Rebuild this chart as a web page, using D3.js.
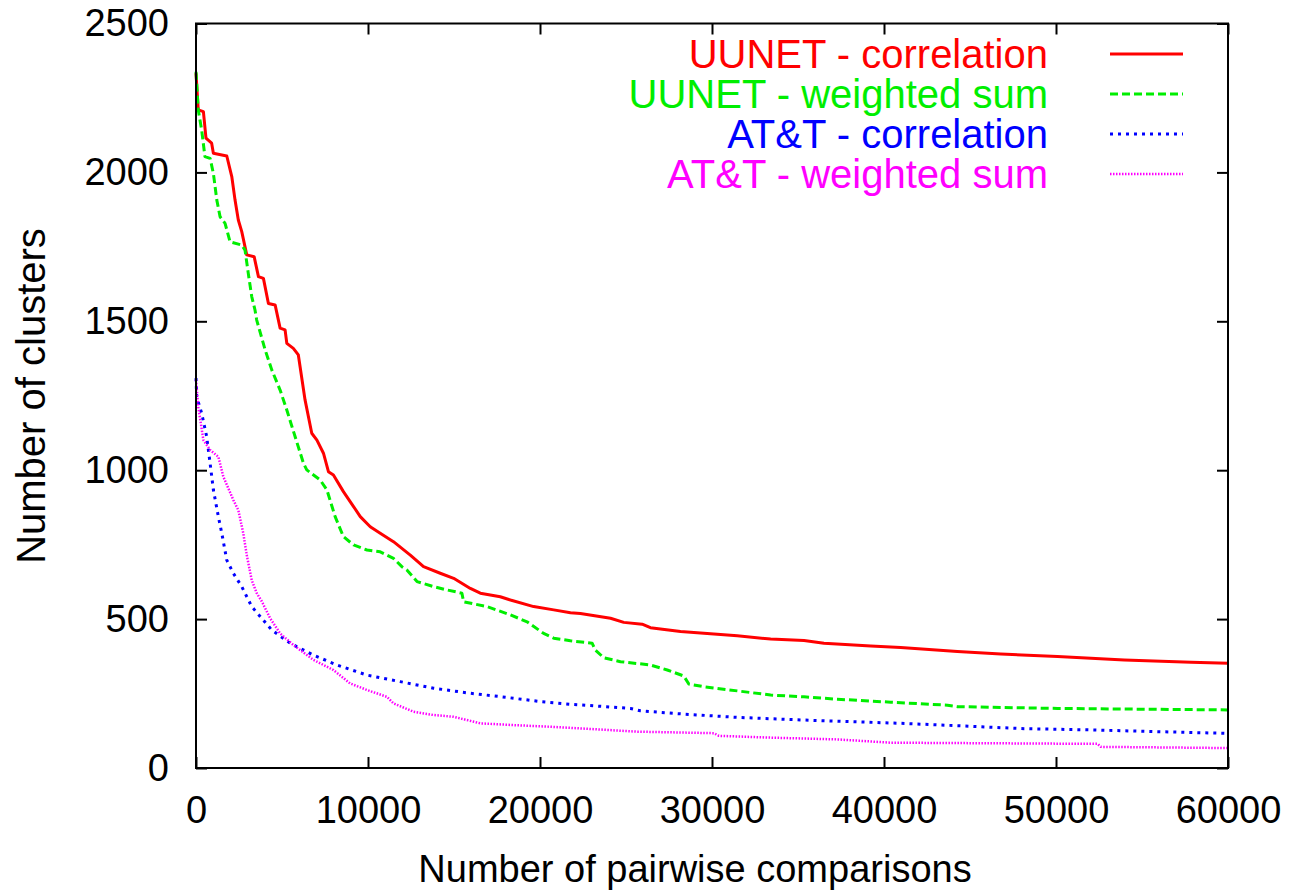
<!DOCTYPE html>
<html>
<head>
<meta charset="utf-8">
<script src="https://cdn.jsdelivr.net/npm/d3@7"></script>
<style>
  body { margin: 0; background: #fff; }
  svg text { font-family: "Liberation Sans", Arial, Helvetica, sans-serif; }
</style>
</head>
<body>
<svg id="chart" width="1289" height="892"></svg>
<script>

// x = number of pairwise comparisons, y = number of clusters
var uunetCorrelation = [
  [0, 2333], [130, 2210], [430, 2204], [580, 2115], [910, 2098], [1010, 2064],
  [1790, 2055], [2080, 1986], [2270, 1907], [2460, 1840], [2660, 1801], [2950, 1723],
  [3380, 1717], [3630, 1650], [3920, 1644], [4210, 1560], [4600, 1555], [4890, 1477],
  [5180, 1471], [5280, 1426], [5660, 1409], [5950, 1387], [6340, 1236], [6730, 1124],
  [7030, 1101], [7410, 1057], [7700, 995], [7990, 984], [8570, 928], [9160, 878],
  [9550, 844], [10130, 810], [10710, 788], [11480, 760], [12460, 715], [13230, 676],
  [14200, 654], [14980, 637], [15950, 603], [16530, 587], [17690, 575], [18280, 564],
  [19630, 542], [20800, 531], [21770, 521], [22350, 519], [24100, 503], [24870, 489],
  [25940, 483], [26420, 471], [28170, 458], [30110, 450], [31470, 444], [33410, 433],
  [35350, 428], [36510, 419], [39230, 410], [40970, 405], [44270, 391], [46790, 383],
  [50090, 374], [53970, 363], [57850, 355], [60000, 352]
];

var uunetWeighted = [
  [0, 2338], [130, 2210], [330, 2142], [520, 2053], [820, 2047], [1010, 1997],
  [1210, 1907], [1400, 1851], [1690, 1829], [1980, 1767], [2660, 1756], [2850, 1739],
  [3040, 1661], [3240, 1583], [3430, 1538], [3530, 1504], [4020, 1404], [4410, 1336],
  [4890, 1269], [5280, 1202], [5760, 1113], [6250, 1023], [6440, 1001], [7220, 967],
  [7610, 934], [8090, 844], [8570, 777], [9160, 749], [9940, 732], [10710, 726],
  [11480, 704], [11970, 676], [12260, 665], [12850, 626], [13810, 609], [14590, 598],
  [15460, 587], [15560, 558], [16920, 542], [18280, 514], [19250, 491], [20210, 452],
  [20800, 436], [21770, 427], [23030, 419], [23220, 396], [23710, 370], [24680, 357],
  [26420, 346], [27400, 329], [28360, 309], [28650, 282], [29530, 273], [31470, 259],
  [33410, 245], [35350, 239], [37290, 231], [40390, 221], [43690, 211], [44270, 206],
  [50090, 200], [60000, 195]
];

var attCorrelation = [
  [0, 1309], [40, 1247], [330, 1191], [620, 1113], [820, 1023], [1010, 934],
  [1300, 844], [1500, 788], [1790, 698], [2170, 654], [2660, 609], [3240, 542],
  [4410, 463], [5470, 419], [6830, 379], [8190, 346], [9940, 312], [11870, 290],
  [13810, 268], [15950, 251], [18080, 237], [20020, 223], [21770, 214], [22350, 212],
  [25260, 200], [25840, 192], [28360, 181], [31470, 170], [35350, 161], [40970, 150],
  [44270, 142], [48150, 132], [52030, 128], [55910, 122], [59480, 117], [60000, 116]
];

var attWeighted = [
  [0, 1303], [130, 1213], [430, 1101], [820, 1068], [1300, 1045], [1590, 978],
  [2170, 900], [2460, 866], [2750, 788], [2950, 715], [3240, 631], [3530, 587],
  [3820, 560], [4310, 503], [4890, 452], [5660, 413], [6830, 363], [7990, 329],
  [8960, 284], [9940, 262], [11100, 239], [11480, 217], [12650, 189], [13810, 178],
  [14980, 172], [16530, 150], [18470, 144], [20410, 139], [22350, 133], [25650, 122],
  [30110, 117], [30400, 108], [33410, 102], [37290, 96], [40390, 85], [52420, 81],
  [52600, 71], [60000, 67]
];

var seriesNames = ["UUNET - correlation", "UUNET - weighted sum", "AT&T - correlation", "AT&T - weighted sum"];
var seriesData = [uunetCorrelation, uunetWeighted, attCorrelation, attWeighted];

var xTicks = [0, 10000, 20000, 30000, 40000, 50000, 60000];
var yTicks = [0, 500, 1000, 1500, 2000, 2500];

// gnuplot-ish line styles
var styles = [
  { color: "#ff0000", dash: null, width: 3 },
  { color: "#00ee00", dash: "8,4", width: 3 },
  { color: "#0000ff", dash: "3,5", width: 3 },
  { color: "#ff00ff", dash: "1.5,1.5", width: 2.5 }
];

// plot box (note: "top" is taken by window.top, so keep these prefixed)
var plotLeft = 196, plotRight = 1228, plotTop = 23.5, plotBottom = 768;

var svg = d3.select("#chart");

var x = d3.scaleLinear().domain([0, 60000]).range([plotLeft, plotRight]);
var y = d3.scaleLinear().domain([0, 2500]).range([plotBottom, plotTop]);

var fontSize = 38, tickLen = 11;

// axes with inward ticks, mirrored on top/right
var gx = svg.append("g").attr("transform", "translate(0," + plotBottom + ")")
  .call(d3.axisBottom(x).tickValues(xTicks).tickSizeInner(-tickLen).tickSizeOuter(0).tickPadding(28).tickFormat(d3.format("d")));
var gy = svg.append("g").attr("transform", "translate(" + plotLeft + ",0)")
  .call(d3.axisLeft(y).tickValues(yTicks).tickSizeInner(-tickLen).tickSizeOuter(0).tickPadding(27).tickFormat(d3.format("d")));
var gt = svg.append("g").attr("transform", "translate(0," + plotTop + ")")
  .call(d3.axisTop(x).tickValues(xTicks).tickSizeInner(-tickLen).tickSizeOuter(0).tickFormat(""));
var gr = svg.append("g").attr("transform", "translate(" + plotRight + ",0)")
  .call(d3.axisRight(y).tickValues(yTicks).tickSizeInner(-tickLen).tickSizeOuter(0).tickFormat(""));

[gx, gy, gt, gr].forEach(g => {
  g.select(".domain").remove();
  g.selectAll(".tick line").attr("stroke", "#000").attr("stroke-width", 2);
  g.selectAll(".tick text").attr("fill", "#000").style("font-size", fontSize + "px");
});

// curves
var line = d3.line().x(d => x(d[0])).y(d => y(d[1]));

seriesData.forEach((d, i) => {
  svg.append("path")
    .datum(d)
    .attr("d", line)
    .attr("fill", "none")
    .attr("stroke", styles[i].color)
    .attr("stroke-width", styles[i].width)
    .attr("stroke-dasharray", styles[i].dash)
    .attr("stroke-linejoin", "round");
});

// frame
svg.append("rect")
  .attr("x", plotLeft).attr("y", plotTop)
  .attr("width", plotRight - plotLeft).attr("height", plotBottom - plotTop)
  .attr("fill", "none").attr("stroke", "#000").attr("stroke-width", 2);

// legend
var legend = svg.append("g");
seriesNames.forEach((name, i) => {
  var ly = 54 + i * 40;
  legend.append("text")
    .attr("x", 1048).attr("y", ly + 14)
    .attr("text-anchor", "end")
    .attr("fill", styles[i].color)
    .style("font-size", "40px")
    .text(name);
  legend.append("line")
    .attr("x1", 1110).attr("x2", 1183)
    .attr("y1", ly).attr("y2", ly)
    .attr("stroke", styles[i].color)
    .attr("stroke-width", styles[i].width)
    .attr("stroke-dasharray", styles[i].dash);
});

// axis titles
svg.append("text")
  .attr("x", 695).attr("y", 882)
  .attr("text-anchor", "middle")
  .style("font-size", fontSize + "px")
  .text("Number of pairwise comparisons");

svg.append("text")
  .attr("transform", "translate(45,396) rotate(-90)")
  .attr("text-anchor", "middle")
  .style("font-size", "40px")
  .text("Number of clusters");

</script>
</body>
</html>
